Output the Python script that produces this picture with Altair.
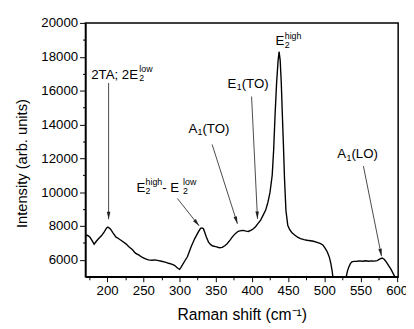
import math
import altair as alt
import pandas as pd

# ---------------- data ----------------
raman_shift = [170, 173, 176, 179, 182, 185, 188, 192, 196, 199, 201, 203, 205, 208, 212, 216, 221, 226,
               230, 235, 239, 244, 248, 253, 257, 262, 266, 271, 275, 280, 285, 289, 293, 296, 298, 300,
               302, 304, 307, 311, 316, 321, 326, 329, 331, 333, 335, 337, 340, 343, 346, 350, 355, 359,
               363, 366, 370, 373, 377, 381, 385, 388, 392, 395, 399, 402, 405, 408, 412, 415, 419, 422,
               425, 428, 430, 432, 434, 436, 437.5, 439, 440.5, 442, 443.5, 445, 447, 449.5, 452, 455,
               459, 463, 467, 472, 476, 481, 485, 490, 494, 498, 501, 504, 507, 509, 511, 513, 520, 528,
               530, 532, 534, 536, 538, 541, 545, 549, 553, 557, 561, 565, 569, 573, 577, 580, 583, 586,
               589, 592, 595, 598, 602]
intensity = [7420, 7450, 7350, 7150, 6930, 7100, 7250, 7420, 7650, 7870, 7940, 7880, 7800, 7600, 7360, 7250,
             7100, 6950, 6780, 6600, 6400, 6280, 6160, 6060, 6000, 5980, 6000, 5960, 5920, 5870, 5800, 5750,
             5680, 5560, 5490, 5440, 5560, 5700, 5920, 6200, 6780, 7260, 7650, 7860, 7890, 7840, 7600, 7350,
             7050, 6900, 6820, 6780, 6720, 6740, 6850, 6970, 7180, 7360, 7550, 7690, 7730, 7740, 7700, 7680,
             7760, 7840, 7960, 8130, 8350, 8600, 8950, 9380, 10000, 11000, 12500, 14600, 16400, 17700, 18300,
             17800, 16500, 14600, 12800, 10800, 8900, 8050, 7800, 7620, 7470, 7350, 7260, 7200, 7160, 7130,
             7100, 7040, 6970, 6880, 6700, 6480, 6150, 5800, 5300, 4500, 3000, 4400, 4950, 5350, 5600, 5780,
             5880, 5910, 5920, 5940, 5920, 5950, 5920, 5940, 5930, 5960, 6060, 6110, 6020, 5850, 5650, 5450,
             5200, 4950, 4700]

# annotation arrows (data units): start -> tip
arrow_x0 = [202, 297, 345, 399.5, 554]
arrow_y0 = [16450, 9630, 12820, 15650, 11540]
arrow_x1 = [202, 327, 380, 407.7, 579]
arrow_y1 = [8400, 8010, 8130, 8420, 6220]

# annotation labels: left/baseline anchor (data units) and text pieces
label_x = [178, 240.4, 312.2, 366.4, 432.7, 518]
label_y = [16700, 10040, 13510, 16180, 18670, 12010]
label_parts = [
    [("2TA; 2E", "n"), ("low", "sup"), ("2", "sub")],
    [("E", "n"), ("high", "sup"), ("2", "sub"), (" - E", "n"), ("low", "sup"), ("2", "sub")],
    [("A", "n"), ("1", "sub"), ("(TO)", "n")],
    [("E", "n"), ("1", "sub"), ("(TO)", "n")],
    [("E", "n"), ("high", "sup"), ("2", "sub")],
    [("A", "n"), ("1", "sub"), ("(LO)", "n")],
]

x_ticks_major = [200, 250, 300, 350, 400, 450, 500, 550, 600]
x_ticks_minor = [175, 225, 275, 325, 375, 425, 475, 525, 575]
y_ticks_major = [6000, 8000, 10000, 12000, 14000, 16000, 18000, 20000]
y_ticks_minor = [7000, 9000, 11000, 13000, 15000, 17000, 19000]

# ---------------- layout ----------------
X_MIN, X_MAX = 170, 602
Y_MIN, Y_MAX = 5000, 20000
W, H = 319, 259
xpp = (X_MAX - X_MIN) / W
ypp = (Y_MAX - Y_MIN) / H
FONT = "Liberation Sans, Arial, Helvetica, sans-serif"
FS_MAIN, FS_SMALL = 13.5, 9
SUP_DY, SUB_DY = -7, 2.5

EM = {'T': .611, 'A': .667, ';': .278, ' ': .278, 'E': .667, '(': .333, ')': .333, 'O': .778,
      'L': .556, '-': .333, 'h': .556, 'i': .222, 'g': .556, 'l': .222, 'o': .556, 'w': .722}


def tw(s, fs):
    return sum(EM.get(c, .556) for c in s) * fs


rows = []
for lx, ly, parts in zip(label_x, label_y, label_parts):
    off = 0.0
    script_start = None
    script_w = 0.0
    for txt, kind in parts:
        if kind == "n":
            if script_start is not None:
                off = script_start + script_w
                script_start, script_w = None, 0.0
            rows.append(dict(x=lx + off * xpp, y=ly, t=txt, fs=FS_MAIN))
            off += tw(txt, FS_MAIN)
        else:
            if script_start is None:
                script_start = off + 0.3
            dy = SUP_DY if kind == "sup" else SUB_DY
            rows.append(dict(x=lx + script_start * xpp, y=ly - dy * ypp, t=txt, fs=FS_SMALL))
            script_w = max(script_w, tw(txt, FS_SMALL))
text_df = pd.DataFrame(rows)

arrows = pd.DataFrame(dict(x0=arrow_x0, y0=arrow_y0, x1=arrow_x1, y1=arrow_y1))
arrows["ang"] = [
    math.degrees(math.atan2((b - a) / xpp, (d - c) / ypp)) % 360
    for a, b, c, d in zip(arrow_x0, arrow_x1, arrow_y0, arrow_y1)
]
spec = pd.DataFrame(dict(x=raman_shift, y=intensity))

xs = alt.Scale(domain=[X_MIN, X_MAX], nice=False, zero=False)
ys = alt.Scale(domain=[Y_MIN, Y_MAX], nice=False, zero=False)

line = alt.Chart(spec).mark_line(color="black", strokeWidth=1.4, clip=True).encode(
    x=alt.X("x:Q", scale=xs, axis=alt.Axis(
        values=x_ticks_major, format="d", tickSize=5, title="Raman shift (cm⁻¹)",
        titleY=44, titleBaseline="alphabetic", titleFontSize=16, orient="bottom")),
    y=alt.Y("y:Q", scale=ys, axis=alt.Axis(
        values=y_ticks_major, format="d", tickSize=6, title="Intensity (arb. units)",
        titleX=-65, titleY=143, titleAngle=270, titleAlign="center", titleBaseline="middle",
        titleFontSize=15, orient="left")),
)

rules = alt.Chart(arrows).mark_rule(color="#333333", strokeWidth=0.9).encode(
    x=alt.X("x0:Q", scale=xs, axis=alt.Axis(values=x_ticks_minor, tickSize=3, labels=False,
                                             domain=False, title="", orient="bottom")),
    y=alt.Y("y0:Q", scale=ys, axis=alt.Axis(values=y_ticks_minor, tickSize=3, labels=False,
                                             domain=False, title="", orient="left")),
    x2="x1:Q", y2="y1:Q",
)

heads = alt.Chart(arrows).mark_point(
    shape="M0,0L-0.24,1L0.24,1Z", filled=True, size=230, color="#222222", opacity=1, strokeWidth=0
).encode(
    x=alt.X("x1:Q", scale=xs, axis=None),
    y=alt.Y("y1:Q", scale=ys, axis=None),
    angle=alt.Angle("ang:Q", scale=None),
)

labels = alt.Chart(text_df).mark_text(
    align="left", baseline="alphabetic", font=FONT, color="black"
).encode(
    x=alt.X("x:Q", scale=xs, axis=None),
    y=alt.Y("y:Q", scale=ys, axis=None),
    text="t:N",
    size=alt.Size("fs:Q", scale=None),
)

chart = alt.layer(line, rules, heads, labels).resolve_axis(
    x="independent", y="independent"
).properties(
    width=W, height=H,
    autosize=alt.AutoSizeParams(type="none"),
    padding={"left": 79, "top": 12, "right": 8, "bottom": 50},
).configure_view(
    stroke="black", strokeWidth=1.5
).configure_axis(
    domainColor="black", domainWidth=1.5, tickColor="black", tickWidth=1,
    labelColor="black", labelFontSize=13.5, labelFont=FONT, titleFont=FONT,
    titleFontWeight="normal", titleColor="black", grid=False, labelPadding=2,
)

chart.save("out.html", embed_options={"renderer": "svg", "actions": False})
